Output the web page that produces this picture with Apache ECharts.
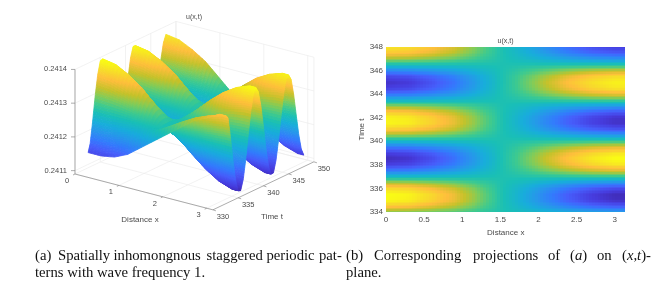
<!DOCTYPE html>
<html><head><meta charset="utf-8">
<style>html,body{margin:0;padding:0;background:#fff}#c{width:672px;height:296px;filter:blur(0.4px)}</style>
<script src="https://cdn.jsdelivr.net/npm/echarts@6/dist/echarts.min.js"></script>
</head><body><div id="c"></div>
<script>
// Values
const xNodes = [0,0.3,0.6,0.9,1.2,1.5,1.8,2.1,2.4,2.7,3.0,3.14159];
const tNodes = [332.6,333,333.5,334,334.5,335,335.5,336,336.5,337,337.5,338,338.5,339,339.5,340,340.5,341,341.5,342,342.5,343,343.5,344,344.5,345,345.5,346,346.5,347,347.5,348];
// u(x,t) in units of 1e-6; one row per time node, one column per x node
const uMicro = [
[241135,241135,241142,241160,241190,241220,241250,241280,241310,241330,241350,241350],
[241159,241163,241177,241195,241221,241247,241270,241294,241316,241332,241341,241341],
[241222,241224,241228,241233,241241,241249,241256,241263,241270,241275,241278,241278],
[241294,241291,241285,241276,241264,241251,241240,241229,241219,241211,241206,241206],
[241353,241348,241332,241312,241283,241253,241227,241200,241176,241158,241147,241147],
[241389,241382,241361,241334,241294,241254,241219,241183,241150,241125,241111,241111],
[241392,241385,241364,241335,241295,241254,241219,241181,241148,241123,241108,241108],
[241363,241358,241340,241318,241286,241253,241225,241195,241169,241149,241137,241137],
[241307,241304,241295,241284,241268,241252,241238,241223,241209,241199,241193,241193],
[241237,241238,241240,241242,241246,241250,241253,241256,241259,241262,241263,241263],
[241172,241175,241187,241203,241225,241248,241267,241288,241306,241320,241328,241328],
[241125,241131,241150,241175,241210,241247,241278,241310,241339,241362,241375,241375],
[241108,241115,241136,241165,241205,241246,241281,241319,241352,241377,241392,241392],
[241124,241130,241149,241174,241210,241247,241278,241311,241340,241363,241376,241376],
[241169,241173,241185,241201,241224,241248,241268,241289,241308,241323,241331,241331],
[241233,241233,241236,241240,241244,241250,241254,241258,241262,241266,241267,241267],
[241301,241298,241291,241280,241266,241251,241239,241225,241214,241204,241199,241199],
[241356,241351,241335,241314,241284,241253,241227,241199,241174,241155,241144,241144],
[241386,241380,241359,241332,241293,241254,241220,241184,241152,241128,241114,241114],
[241385,241378,241358,241331,241293,241254,241220,241185,241153,241129,241115,241115],
[241352,241347,241331,241311,241282,241253,241228,241201,241177,241159,241148,241148],
[241295,241293,241286,241277,241264,241251,241240,241228,241218,241210,241205,241205],
[241228,241229,241233,241237,241243,241249,241255,241260,241266,241270,241272,241272],
[241167,241171,241184,241200,241224,241248,241268,241290,241309,241324,241333,241333],
[241125,241131,241150,241175,241210,241247,241278,241310,241339,241362,241375,241375],
[241114,241120,241141,241168,241207,241246,241280,241316,241348,241370,241383,241383],
[241134,241140,241157,241180,241213,241247,241276,241306,241333,241354,241366,241366],
[241183,241187,241197,241210,241229,241248,241265,241282,241298,241310,241317,241317],
[241247,241247,241248,241248,241249,241250,241251,241251,241252,241253,241253,241253],
[241308,241305,241296,241285,241268,241252,241237,241222,241208,241198,241192,241192],
[241354,241349,241334,241313,241283,241253,241227,241200,241175,241156,241146,241146],
[241376,241370,241351,241326,241290,241253,241222,241189,241160,241137,241124,241124]
];
const xTicks3d = [0,1,2,3];
const tTicks3d = [330,335,340,345,350];
const zTicks3d = [0.2411,0.2412,0.2413,0.2414];
const zTickLabels = ['0.2411','0.2412','0.2413','0.2414'];
const yTicksMap = [334,336,338,340,342,344,346,348];

// parula colormap
const parulaPos = [0,5,11,16,21,26,32,37,42,47,53,58,63].map(i=>i/63);
const parula = [[62,38,168],[70,60,222],[70,94,251],[50,124,252],[39,150,235],[24,173,219],[25,191,182],[63,202,142],[129,204,89],[197,194,42],[254,190,60],[247,220,42],[249,251,21]];
const uMin = 0.24110, uMax = 0.24139;
function colorOf(u){
  const f = Math.max(0,Math.min(1,(u-uMin)/(uMax-uMin)));
  let i=0; while(i<parula.length-2 && f>parulaPos[i+1]) i++;
  const k=(f-parulaPos[i])/(parulaPos[i+1]-parulaPos[i]), a=parula[i], b=parula[i+1];
  return 'rgb('+[0,1,2].map(n=>Math.round(a[n]+(b[n]-a[n])*k)).join(',')+')';
}
const u = (j,i)=>uMicro[j][i]/1e6;
// shading interp: colour/height inside a cell blends its four corner nodes
function blend(j,i,fx,ft){
  return (u(j,i)*(1-fx)+u(j,i+1)*fx)*(1-ft)+(u(j+1,i)*(1-fx)+u(j+1,i+1)*fx)*ft;
}
// orthographic view of the 3-D box (MATLAB-style axes)
const zFloor = 0.24109, zTop = 0.2414;
function proj(x,t,z){
  return [75+43.9*x+5.05*(t-330), 174+11.4*x-2.4*(t-330)-(z-zFloor)*337333];
}
const xMax = Math.PI;

const cells3d=[];
for(let j=tNodes.length-2;j>=0;j--) for(let i=0;i<xNodes.length-1;i++) cells3d.push([i,j]);
const cellsMap=[];
for(let j=tNodes.indexOf(334);j<tNodes.length-1;j++) for(let i=0;i<xNodes.length-1;i++) cellsMap.push([i,j]);

const TICK='#4a4a4a', GRID='#ececec', AXIS='#8a8a8a', FF='"Liberation Sans",Arial,sans-serif';
function line(a,b,c,w){return {type:'line',silent:true,shape:{x1:a[0],y1:a[1],x2:b[0],y2:b[1]},style:{stroke:c,lineWidth:w||0.7}};}
function label(p,text,size,align,vb){return {type:'text',silent:true,x:p[0],y:p[1],style:{text,fill:TICK,font:(size||7.5)+'px '+FF,textAlign:align||'center',textVerticalAlign:vb||'middle'}};}

function renderFrame(params,api){
  const c=[], P=(x,t,z)=>{const q=proj(x,t,z);return api.coord(q);};
  const tA=330,tB=350;
  zTicks3d.forEach(z=>{ c.push(line(P(0,tA,z),P(0,tB,z),GRID)); c.push(line(P(0,tB,z),P(xMax,tB,z),GRID)); });
  tTicks3d.forEach(t=>{ c.push(line(P(0,t,zFloor),P(0,t,zTop),GRID)); c.push(line(P(0,t,zFloor),P(xMax,t,zFloor),GRID)); });
  xTicks3d.forEach(x=>{ c.push(line(P(x,tB,zFloor),P(x,tB,zTop),GRID)); c.push(line(P(x,tA,zFloor),P(x,tB,zFloor),GRID)); });
  c.push(line(P(xMax,tB,zFloor),P(xMax,tB,zTop),GRID)); c.push(line(P(0,tB,zFloor),P(xMax,tB,zFloor),GRID));
  // axes
  c.push(line(P(0,tA,zFloor),P(0,tA,zTop),AXIS));
  c.push(line(P(0,tA,zFloor),P(xMax,tA,zFloor),AXIS));
  c.push(line(P(xMax,tA,zFloor),P(xMax,tB,zFloor),AXIS));
  zTicks3d.forEach((z,n)=>{const p=P(0,tA,z); c.push(line([p[0]-4,p[1]],p,AXIS)); c.push(label([p[0]-8,p[1]],zTickLabels[n],7.5,'right'));});
  xTicks3d.forEach(x=>{const p=P(x,tA,zFloor); c.push(line(p,[p[0]-2,p[1]+1],AXIS)); c.push(label([p[0]-8,p[1]+7],String(x)));});
  tTicks3d.forEach(t=>{const p=P(xMax,t,zFloor); c.push(line(p,[p[0]+3,p[1]+1],AXIS)); c.push(label([p[0]+10,p[1]+7],String(t)));});
  c.push(label(api.coord([140,220]),'Distance x',8));
  c.push(label(api.coord([272,217]),'Time t',8));
  c.push(label(api.coord([194,17]),'u(x,t)',7));
  return {type:'group',children:c};
}
function renderSurface(params,api){
  const [i,j]=cells3d[params.dataIndex], nx=4, nt=8, c=[];
  for(let b=nt-1;b>=0;b--) for(let a=0;a<nx;a++){
    const pt=(fa,fb)=>{
      const x=xNodes[i]+(xNodes[i+1]-xNodes[i])*fa, t=tNodes[j]+(tNodes[j+1]-tNodes[j])*fb;
      return api.coord(proj(x,t,blend(j,i,fa,fb)));
    };
    const col=colorOf(blend(j,i,(a+.5)/nx,(b+.5)/nt));
    c.push({type:'polygon',silent:true,shape:{points:[pt(a/nx,b/nt),pt((a+1)/nx,b/nt),pt((a+1)/nx,(b+1)/nt),pt(a/nx,(b+1)/nt)]},style:{fill:col,stroke:col,lineWidth:0.8}});
  }
  return {type:'group',children:c};
}
function renderMap(params,api){
  const [i,j]=cellsMap[params.dataIndex], nx=8, nt=4, c=[];
  for(let a=0;a<nx;a++) for(let b=0;b<nt;b++){
    const x0=xNodes[i]+(xNodes[i+1]-xNodes[i])*a/nx, x1=xNodes[i]+(xNodes[i+1]-xNodes[i])*(a+1)/nx;
    const t0=tNodes[j]+(tNodes[j+1]-tNodes[j])*b/nt, t1=tNodes[j]+(tNodes[j+1]-tNodes[j])*(b+1)/nt;
    const p0=api.coord([x0,t1]), p1=api.coord([x1,t0]);
    const l=Math.round(p0[0]), r=Math.round(p1[0]), tp=Math.round(p0[1]), bt=Math.round(p1[1]);
    if(r>l&&bt>tp) c.push({type:'rect',silent:true,shape:{x:l,y:tp,width:r-l,height:bt-tp},style:{fill:colorOf(blend(j,i,(a+.5)/nx,(b+.5)/nt))}});
  }
  return {type:'group',children:c};
}

const serif='"Liberation Serif","Times New Roman",serif';
const capSize='14.7px ';
const capRich={i:{font:'italic '+capSize+serif,fill:'#111'},n:{font:capSize+serif,fill:'#111'}};
const capWords=[
 ['(a)',35,0],['Spatially',58,0],['inhomongnous',113.5,0],['staggered',206.5,0],['periodic',266.5,0],['pat-',319,0],
 ['terns with wave frequency 1.',35,1],
 ['(b)',346,0],['Corresponding',374,0],['projections',473,0],['of',548,0],['{n|(}{i|a}{n|)}',570,0],['on',597,0],['{n|(}{i|x}{n|,}{i|t}{n|)-}',622,0],
 ['plane.',346,1]
];
const chart=echarts.init(document.getElementById('c'),null,{renderer:'canvas'});
chart.setOption({
  animation:false,backgroundColor:'#fff',
  grid:[
    {left:0,top:0,width:672,height:296,show:false},
    {left:386,top:47,width:239.5,height:165,show:false}
  ],
  xAxis:[
    {gridIndex:0,type:'value',min:0,max:672,show:false},
    {gridIndex:1,type:'value',min:0,max:xMax,interval:0.5,splitLine:{show:false},axisLine:{show:false},axisTick:{show:false},
     axisLabel:{color:TICK,fontSize:8,fontFamily:'Liberation Sans',margin:4,showMaxLabel:false,formatter:v=>String(v)},
     name:'Distance x',nameLocation:'middle',nameGap:15,nameTextStyle:{color:TICK,fontSize:8,fontFamily:'Liberation Sans'}}
  ],
  yAxis:[
    {gridIndex:0,type:'value',min:0,max:296,inverse:true,show:false},
    {gridIndex:1,type:'value',min:yTicksMap[0],max:yTicksMap[yTicksMap.length-1],interval:2,splitLine:{show:false},axisLine:{show:false},axisTick:{show:false},
     axisLabel:{color:TICK,fontSize:8,fontFamily:'Liberation Sans',margin:3},
     name:'Time t',nameLocation:'middle',nameGap:16,nameTextStyle:{color:TICK,fontSize:8,fontFamily:'Liberation Sans'}}
  ],
  series:[
    {type:'custom',xAxisIndex:0,yAxisIndex:0,coordinateSystem:'cartesian2d',silent:true,clip:false,z:1,data:[[0,0]],renderItem:renderFrame,progressive:0},
    {type:'custom',xAxisIndex:0,yAxisIndex:0,coordinateSystem:'cartesian2d',silent:true,clip:false,z:2,data:cells3d,renderItem:renderSurface,progressive:0},
    {type:'custom',xAxisIndex:1,yAxisIndex:1,coordinateSystem:'cartesian2d',silent:true,clip:true,z:2,data:cellsMap.map(([i,j])=>[xNodes[i],tNodes[j],uMicro[j][i]]),renderItem:renderMap,progressive:0}
  ],
  graphic:{elements:[
    {type:'text',silent:true,x:505.5,y:41,style:{text:'u(x,t)',fill:TICK,font:'7px '+FF,textAlign:'center',textVerticalAlign:'middle'}},
    ...capWords.map(([w,x,row])=>({type:'text',silent:true,x,y:row?273.5:255.7,style:{text:w,fill:'#111',font:capSize+serif,textVerticalAlign:'middle',rich:capRich}}))
  ]}
});
</script></body></html>
